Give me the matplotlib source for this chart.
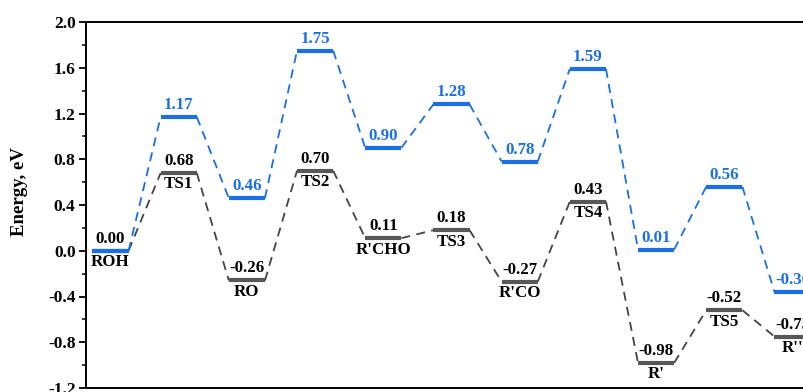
import matplotlib
matplotlib.use("Agg")
import matplotlib.pyplot as plt
from matplotlib.ticker import MultipleLocator

plt.rcParams['font.family'] = ['Liberation Serif', 'DejaVu Serif']
plt.rcParams['font.weight'] = 'bold'

# Species along the reaction coordinate
species = ["ROH", "TS1", "RO", "TS2", "R'CHO", "TS3", "R'CO", "TS4", "R'", "TS5", "R''"]
# Relative energies (eV) for the two pathways
energy_gray = [0.00, 0.68, -0.26, 0.70, 0.11, 0.18, -0.27, 0.43, -0.98, -0.52, -0.75]
energy_blue = [0.00, 1.17, 0.46, 1.75, 0.90, 1.28, 0.78, 1.59, 0.01, 0.56, -0.36]
y_ticks = [-1.2, -0.8, -0.4, 0.0, 0.4, 0.8, 1.2, 1.6, 2.0]

BLUE = "#1a6fe3"
GRAY = "#575757"
half = 0.265
LABEL_SIZE = 12.2

fig = plt.figure(figsize=(8.04, 3.92), dpi=100)
ax = fig.add_axes([86 / 804, 1 - 388 / 392, 900 / 804, (388 - 22) / 392])


def draw_path(values, color, dash_color, zorder):
    n = len(values)
    for i, v in enumerate(values):
        ax.plot([i - half, i + half], [v, v], color=color, lw=3.0,
                solid_capstyle='butt', zorder=zorder + 1)
        if i < n - 1:
            ax.plot([i + half, i + 1 - half], [v, values[i + 1]], color=dash_color,
                    lw=1.3, dashes=(5, 3.5), zorder=zorder)


draw_path(energy_gray, GRAY, "#444444", 2)
draw_path(energy_blue, BLUE, BLUE, 4)

for i, (v, name) in enumerate(zip(energy_gray, species)):
    ax.text(i, v + 0.035, f"{v:.2f}", ha='center', va='bottom', fontsize=LABEL_SIZE,
            fontweight='bold', color='black', zorder=6)
    ax.text(i, v - 0.03, name, ha='center', va='top', fontsize=LABEL_SIZE,
            fontweight='bold', color='black', zorder=6)

for i, v in enumerate(energy_blue):
    if i == 0:
        continue
    ax.text(i, v + 0.035, f"{v:.2f}", ha='center', va='bottom', fontsize=LABEL_SIZE,
            fontweight='bold', color=BLUE, zorder=6)

ax.set_xlim(-(110.5 - 86) / 68.2, -(110.5 - 86) / 68.2 + 900 / 68.2)
ax.set_ylim(-1.2, 2.0)
ax.set_yticks(y_ticks)
ax.set_yticklabels([f"{t:.1f}" for t in y_ticks], fontsize=12.5, fontweight='bold')
ax.yaxis.set_minor_locator(MultipleLocator(0.2))
ax.tick_params(axis='y', which='major', direction='out', length=5, width=1.3, pad=2.5)
ax.tick_params(axis='y', which='minor', direction='out', length=3, width=1.1)
ax.set_xticks([])
for s in ax.spines.values():
    s.set_linewidth(1.4)

fig.text(20 / 804, 1 - 192 / 392, "Energy, eV", rotation=90, ha='center', va='center',
         fontsize=13.5, fontweight='bold')

fig.savefig("out.png", dpi=100)
